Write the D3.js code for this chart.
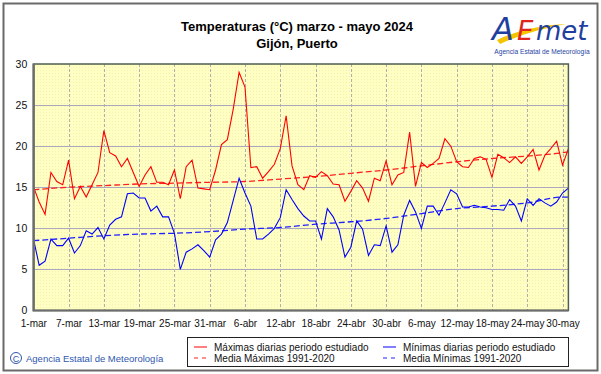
<!DOCTYPE html>
<html>
<head>
<meta charset="utf-8">
<script src="https://cdn.jsdelivr.net/npm/d3@7"></script>
<style>
  body { margin: 0; background: #fff; }
  svg { display: block; font-family: "Liberation Sans", Arial, sans-serif; }
</style>
</head>
<body>
<script>
// temperaturas diarias 1-mar .. 31-may 2024 (Gijón, Puerto)
let maximas = [
  15.1, 13.2, 11.7, 16.8, 15.7, 15.3, 18.3, 13.6, 15.1, 13.8, 15.3, 16.8, 21.9, 19.2, 18.8, 17.5,
  18.5, 16.8, 15.1, 16.5, 17.5, 15.6, 15.6, 15.3, 17.1, 13.6, 17.5, 18.3, 14.9, 14.8, 14.7, 17.1,
  20.2, 20.8, 24.5, 29.0, 27.2, 17.4, 17.5, 16.1, 16.9, 17.8, 19.7, 23.7, 17.6, 15.3, 14.7, 16.4,
  16.2, 16.9, 16.4, 15.4, 15.3, 13.3, 14.5, 15.8, 14.9, 13.3, 16.1, 15.8, 18.2, 15.3, 16.5, 16.8,
  21.7, 15.1, 18.0, 17.4, 17.9, 18.5, 20.9, 20.0, 18.1, 17.5, 17.4, 18.5, 18.7, 18.4, 16.2, 19.0,
  18.6, 18.0, 18.7, 17.9, 18.7, 19.6, 17.1, 18.9, 19.7, 20.6, 17.7, 19.7,
];
let minimas = [
  8.8, 5.5, 6.0, 8.7, 7.9, 7.9, 8.8, 7.0, 7.9, 9.7, 9.3, 10.1, 8.7, 10.4, 11.1, 11.4,
  14.2, 14.3, 13.7, 13.7, 12.1, 12.7, 11.4, 11.4, 9.4, 5.0, 7.1, 7.5, 8.0, 7.3, 6.5, 8.6,
  9.3, 10.7, 13.4, 16.1, 14.3, 12.7, 8.7, 8.7, 9.3, 10.0, 11.3, 14.7, 13.5, 12.4, 11.5, 10.9,
  10.9, 8.7, 12.4, 11.4, 9.8, 6.5, 7.7, 10.9, 9.9, 6.7, 8.0, 7.9, 10.3, 7.1, 8.0, 11.6,
  13.4, 12.0, 10.0, 12.7, 12.7, 11.6, 13.1, 14.7, 14.2, 12.6, 12.6, 12.8, 12.6, 12.5, 12.3, 12.3,
  12.2, 13.5, 12.7, 10.9, 13.6, 12.8, 13.6, 13.1, 12.7, 13.2, 14.3, 14.9,
];

// medias 1991-2020 leídas cada 6 días (y el 31-may)
let diasMedia = [0, 6, 12, 18, 24, 30, 36, 42, 48, 54, 60, 66, 72, 78, 84, 90, 91];
let mediaMax = [14.7, 15.0, 15.2, 15.4, 15.5, 15.6, 15.7, 16.0, 16.3, 16.7, 17.1, 17.6, 18.1, 18.5, 18.8, 19.2, 19.3];
let mediaMin = [8.5, 8.8, 9.1, 9.3, 9.4, 9.6, 9.9, 10.1, 10.5, 10.8, 11.2, 11.8, 12.4, 12.7, 13.1, 13.8, 13.8];

let etiquetasX = [
  "1-mar", "7-mar", "13-mar", "19-mar", "25-mar", "31-mar", "6-abr", "12-abr",
  "18-abr", "24-abr", "30-abr", "6-may", "12-may", "18-may", "24-may", "30-may",
];
let ticksY = [0, 5, 10, 15, 20, 25, 30];

function graficar() {
  let w = 601;
  let h = 374;
  let izq = 33.3, der = 568.4, arriba = 64, abajo = 310.5;

  let inicio = new Date(2024, 2, 1);
  let dias = d3.timeDay.range(inicio, new Date(2024, 5, 1));
  let ticksX = etiquetasX.map(function (d, i) {
    return d3.timeDay.offset(inicio, i * 6);
  });

  let x = d3.scaleTime().domain([dias[0], dias[dias.length - 1]]).range([izq, der]);
  let y = d3.scaleLinear().domain([0, 30]).range([abajo, arriba]);

  let svg = d3.select("body").append("svg").attr("width", w).attr("height", h);

  // marco exterior
  svg.append("rect")
    .attr("x", 3.5).attr("y", 3.5).attr("width", w - 7).attr("height", h - 7)
    .attr("fill", "white").attr("stroke", "#6a6a6a").attr("stroke-width", 2);

  // títulos
  svg.append("text").attr("x", 297).attr("y", 31).attr("text-anchor", "middle")
    .attr("font-size", 13).attr("font-weight", "bold")
    .text("Temperaturas (°C) marzo  - mayo 2024");
  svg.append("text").attr("x", 297).attr("y", 48).attr("text-anchor", "middle")
    .attr("font-size", 13).attr("font-weight", "bold")
    .text("Gijón, Puerto");

  // logo
  let logo = svg.append("g");
  logo.append("path")
    .attr("d", "M497,40 C520,29 545,25 566,24 C545,28 522,34 500,44 Z")
    .attr("fill", "#f5c400");
  logo.append("text").attr("x", 492).attr("y", 40).attr("font-size", 32)
    .attr("font-style", "italic").attr("fill", "#1f3f9f")
    .attr("font-family", "DejaVu Sans").attr("font-weight", 200).text("A");
  logo.append("text").attr("x", 517).attr("y", 40).attr("font-size", 26)
    .attr("font-style", "italic").attr("fill", "#e0231c")
    .attr("font-family", "DejaVu Sans").attr("font-weight", 200).text("E");
  logo.append("text").attr("x", 536).attr("y", 40).attr("font-size", 26)
    .attr("font-style", "italic").attr("fill", "#1f3f9f")
    .attr("font-family", "DejaVu Sans").attr("font-weight", 200).text("met");
  logo.append("text").attr("x", 542).attr("y", 54).attr("text-anchor", "middle")
    .attr("font-size", 6.6).attr("fill", "#1f3f9f").text("Agencia Estatal de Meteorología");

  // fondo del gráfico
  let defs = svg.append("defs");
  let pat = defs.append("pattern").attr("id", "punteado")
    .attr("width", 3).attr("height", 3).attr("patternUnits", "userSpaceOnUse");
  pat.append("rect").attr("width", 3).attr("height", 3).attr("fill", "#ffffc2");
  pat.append("rect").attr("x", 1).attr("y", 1).attr("width", 1).attr("height", 1).attr("fill", "#f2f0b8");

  svg.append("rect")
    .attr("x", izq).attr("y", arriba).attr("width", der - izq).attr("height", abajo - arriba)
    .attr("fill", "url(#punteado)");

  // rejilla horizontal
  svg.selectAll(".gy")
    .data(ticksY.slice(1, -1))
    .enter()
    .append("line")
    .attr("x1", izq).attr("x2", der)
    .attr("y1", function (d) { return Math.round(y(d)) + 0.5; })
    .attr("y2", function (d) { return Math.round(y(d)) + 0.5; })
    .attr("stroke", "#a9a8bf").attr("stroke-width", 1);

  // rejilla vertical
  svg.selectAll(".gx")
    .data(ticksX.slice(1))
    .enter()
    .append("line")
    .attr("x1", function (d) { return Math.round(x(d)) + 0.5; })
    .attr("x2", function (d) { return Math.round(x(d)) + 0.5; })
    .attr("y1", arriba).attr("y2", abajo)
    .attr("stroke", "#b0b0b0").attr("stroke-width", 1)
    .attr("stroke-dasharray", "3,2");

  // ejes
  let ejeY = d3.axisLeft(y).tickValues(ticksY).tickSize(0).tickPadding(6);
  svg.append("g").attr("transform", "translate(" + izq + ",0)").call(ejeY)
    .call(function (g) { g.select(".domain").remove(); })
    .selectAll("text").attr("font-size", 10.5).attr("font-family", "Liberation Sans, Arial").attr("fill", "#111");

  let ejeX = d3.axisBottom(x).tickValues(ticksX).tickSize(0).tickPadding(9)
    .tickFormat(function (d, i) { return etiquetasX[i]; });
  svg.append("g").attr("transform", "translate(0," + abajo + ")").call(ejeX)
    .call(function (g) { g.select(".domain").remove(); })
    .selectAll("text").attr("font-size", 10).attr("font-family", "Liberation Sans, Arial").attr("fill", "#111");

  // medias (discontinuas)
  let lineaMedia = d3.line()
    .x(function (d) { return x(d3.timeDay.offset(inicio, d[0])); })
    .y(function (d) { return y(d[1]); })
    .curve(d3.curveMonotoneX);

  svg.append("path")
    .datum(diasMedia.map(function (d, i) { return [d, mediaMax[i]]; }))
    .attr("d", lineaMedia)
    .attr("fill", "none").attr("stroke", "#ff2020").attr("stroke-width", 1.3)
    .attr("stroke-dasharray", "6,3");

  svg.append("path")
    .datum(diasMedia.map(function (d, i) { return [d, mediaMin[i]]; }))
    .attr("d", lineaMedia)
    .attr("fill", "none").attr("stroke", "#2020ff").attr("stroke-width", 1.3)
    .attr("stroke-dasharray", "6,3");

  // series diarias
  let linea = d3.line()
    .x(function (d, i) { return x(dias[i]); })
    .y(function (d) { return y(d); });

  svg.append("path").datum(maximas).attr("d", linea)
    .attr("fill", "none").attr("stroke", "#ff0000").attr("stroke-width", 1.1);

  svg.append("path").datum(minimas).attr("d", linea)
    .attr("fill", "none").attr("stroke", "#0000ff").attr("stroke-width", 1.1);

  // marco del gráfico
  svg.append("rect")
    .attr("x", izq).attr("y", arriba).attr("width", der - izq).attr("height", abajo - arriba)
    .attr("fill", "none").attr("stroke", "#4f5f4f").attr("stroke-width", 1.5);
  svg.append("path")
    .attr("d", "M" + (izq + 0.5) + "," + arriba + "V" + abajo + "H" + der)
    .attr("fill", "none").attr("stroke", "#6d6d6d").attr("stroke-width", 2.2);

  // leyenda
  let ley = svg.append("g");
  ley.append("rect").attr("x", 187.5).attr("y", 337.5).attr("width", 381).attr("height", 29)
    .attr("fill", "white").attr("stroke", "#222").attr("stroke-width", 1);

  let items = [
    { t: "Máximas diarias periodo estudiado", c: "#ff0000", dash: null, x: 194, y: 347 },
    { t: "Media Máximas 1991-2020", c: "#ff2020", dash: "4,4", x: 194, y: 358 },
    { t: "Mínimas diarias periodo estudiado", c: "#0000ff", dash: null, x: 383, y: 347 },
    { t: "Media Mínimas 1991-2020", c: "#2020ff", dash: "4,4", x: 383, y: 358 },
  ];
  ley.selectAll("line")
    .data(items)
    .enter()
    .append("line")
    .attr("x1", function (d) { return d.x; })
    .attr("x2", function (d) { return d.x + 13; })
    .attr("y1", function (d) { return d.y; })
    .attr("y2", function (d) { return d.y; })
    .attr("stroke", function (d) { return d.c; })
    .attr("stroke-dasharray", function (d) { return d.dash; });
  ley.selectAll("text")
    .data(items)
    .enter()
    .append("text")
    .attr("x", function (d) { return d.x + 20; })
    .attr("y", function (d) { return d.y + 3.5; })
    .attr("font-size", 10)
    .attr("fill", "#111")
    .text(function (d) { return d.t; });

  // copyright
  svg.append("circle").attr("cx", 16).attr("cy", 358).attr("r", 5.5)
    .attr("fill", "none").attr("stroke", "#2f57b0").attr("stroke-width", 1);
  svg.append("text").attr("x", 16).attr("y", 361.5).attr("text-anchor", "middle")
    .attr("font-size", 9).attr("fill", "#2f57b0").text("C");
  svg.append("text").attr("x", 26).attr("y", 362).attr("font-size", 9.5)
    .attr("fill", "#2f57b0").text("Agencia Estatal de Meteorología");
}

graficar();
</script>
</body>
</html>
